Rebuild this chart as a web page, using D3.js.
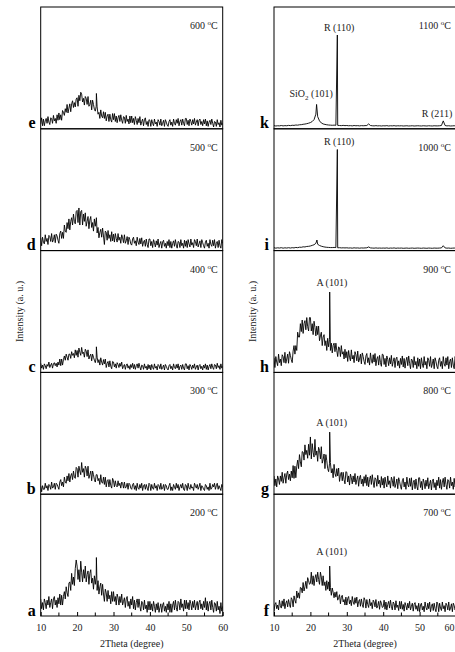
<!DOCTYPE html>
<html><head><meta charset="utf-8">
<script src="https://cdn.jsdelivr.net/npm/d3@7"></script>
<style>
body{margin:0;background:#fff}
svg{display:block;font-family:"Liberation Serif","Times New Roman",serif}
</style>
</head><body>
<svg id="c" width="455" height="652"></svg>
<script>
// ---- data ----
const thetaStart = 10;
const xTicks = [10, 20, 30, 40, 50, 60];
const xMinorTicks = [15, 25, 35, 45, 55];
const xTitle = "2Theta (degree)";
const yTitle = "Intensity (a. u.)";

const panelLetters = ["a", "b", "c", "d", "e", "f", "g", "h", "i", "k"];
const panelTemps = ["200", "300", "400", "500", "600", "700", "800", "900", "1000", "1100"];
const panelStep = [0.25, 0.25, 0.25, 0.25, 0.25, 0.25, 0.25, 0.25, 0.5, 0.5];

const int200 = [
 14,6,11,5,14,11,6,13,9,16,7,11,14,6,14,16,9,13,7,15,
 10,18,9,17,9,16,20,14,24,19,16,27,28,21,35,26,32,25,39,46,
 41,30,38,28,45,36,28,38,31,41,28,34,37,26,35,38,27,31,22,33,
 26,33,21,29,18,24,27,17,26,18,12,22,19,12,21,14,17,10,20,12,
 20,12,16,9,18,15,9,16,11,18,9,12,15,7,14,16,8,12,6,14,
 9,16,6,13,5,11,14,7,14,8,4,12,11,5,13,6,9,3,12,5,
 12,5,10,4,12,8,3,10,5,11,3,7,10,3,9,11,4,8,3,10,
 5,12,3,10,3,9,12,5,13,7,4,12,11,5,14,7,10,4,13,6,
 13,6,11,5,13,10,5,12,7,13,5,9,12,5,11,13,6,10,5,12,
 7,15,5,12,4,10,12,5,13,7,3,11,10,4,12,5,8,2,11,4,
 8];
const int300 = [
 7,2,7,4,4,9,5,7,3,8,7,4,10,5,6,9,4,9,8,6,
 4,10,12,7,10,6,14,10,9,15,11,17,10,15,17,12,19,14,13,22,
 21,14,23,19,16,26,18,21,14,23,21,15,23,13,16,19,11,19,16,12,
 10,16,16,11,13,8,16,10,9,14,8,14,6,11,12,6,12,7,5,13,
 11,6,11,7,6,11,7,9,5,10,9,5,10,5,6,9,4,9,8,5,
 4,8,9,4,7,3,9,5,4,8,5,9,3,7,8,4,8,5,3,9,
 8,3,8,5,4,9,5,7,3,8,7,4,9,4,5,8,3,8,7,4,
 4,7,9,3,6,3,8,6,4,9,5,8,3,6,8,5,9,4,3,8,
 7,3,9,5,4,8,5,6,3,9,7,5,8,4,6,9,3,7,6,4,
 3,8,7,4,6,3,9,4,5,8,6,9,4,7,9,4,7,5,3,8,
 6];
const int400 = [
 7.5,3.5,6,2.5,7,5.5,3,6.5,5,8.5,4,6,7.5,3.5,7,8,5.5,7.5,4.5,8.5,
 6,11,5.5,11,6,10.5,13.5,10,15,12.5,10,15,15,11.5,17,14,15.5,12,18.5,14,
 18,12.5,20,16.5,14,20.5,15.5,16.5,12.5,19,17.5,13,18.5,11,13.5,15,9.5,15,12.5,10,
 8,12,12.5,8,10.5,6,12,8.5,6,10.5,7,11,4,7.5,9,4.5,9.5,5,3,9,
 8.5,4.5,7,3.5,8,6.5,4,7.5,5,8.5,3,5,6.5,2.5,6,7,3.5,5.5,2.5,6.5,
 4,7.5,3,6.5,2.5,5.5,7,3.5,7.5,4.5,2,6,5.5,2.5,7,3.5,5,2,6.5,3,
 6,2,6.5,4,2.5,7,3.5,5,2,6.5,5.5,3,7,2.5,4,6,2,6.5,5,3,
 2,5.5,6.5,3,5,2,7,4,3,6.5,3.5,7,2,5,6,2.5,6.5,3.5,2,7,
 7,3,5.5,2,6.5,5,2.5,6,3.5,7,2.5,4.5,6,2,5.5,6.5,3,5,2,6,
 3.5,7,2.5,6,2,5,6.5,3,7,4,2.5,6.5,6,3,7.5,4,5.5,2.5,7,3.5,
 5];
const int500 = [
 10.5,4,11,7,5.5,13,7.5,10,5,12.5,11.5,7.5,14,7,9,13,6.5,13.5,12,8.5,
 6,14,16,10,15,10,21,16,15,23,18,26,17,24,27,21,30,24,22,32,
 33,23,35,21,32,33,21,30,24,31,20,24,28,18,25,28,19,23,16,26,
 20,25.5,14.5,19,10.5,15,17.5,11,18.5,12,5,16,15,8.5,16.5,10,13,7.5,15.5,8,
 13.5,7,14,10,7,14,8.5,11,6,13,10.5,6.5,13,6,8,11.5,5,11,9,5.5,
 4.5,9.5,11,6,8,4,11,7,5,10,5.5,10.5,3.5,7,8.5,3.5,9.5,5,2.5,9.5,
 9.5,4,7.5,2.5,9,6.5,3,8,4.5,9.5,2.5,5.5,7.5,2,7,8.5,3.5,6,2,7.5,
 4,9,2.5,7.5,2,6,8,3.5,9,4.5,2,7.5,7,2.5,9,4,6,2,8.5,3.5,
 8,2.5,9,5.5,3,9.5,4.5,6.5,2.5,9,7.5,4,9.5,3,5.5,8,2.5,9,6.5,4,
 2,7,8.5,3.5,6,2,9,5,3.5,8.5,4,9,2,6,7.5,2.5,8.5,4,2,9,
 6];
const int600 = [
 4,9,2.5,8,2.5,6.5,8.5,4.5,10,5.5,3.5,9,8.5,4.5,11,6.5,8.5,4.5,11.5,7,
 13,7.5,11.5,7,15,13.5,11,16.5,13.5,20,13,17,20.5,14,20.5,23,17.5,21.5,18,24.5,
 25.5,18.5,27.5,23,30,28.5,22,25,19.5,26.5,25,20,26.5,18.5,20,23.5,15.5,23.5,20,16,
 14.5,18.5,18,12,13.5,8.5,15.5,10.5,9,14,8.5,13.5,6.5,10.5,12,6,12,7.5,5.5,12.5,
 7.5,12.5,6,10.5,5,9,11,6,11.5,7,4.5,10,9.5,4.5,11,6,8,4,10.5,5,
 10.5,5,8.5,3.5,10,7,3.5,8.5,5,10,3,6,8,2.5,7.5,9,3.5,6,2,7.5,
 7,2,7.5,4.5,2.5,8,4,5.5,2,7.5,6,3,8,2.5,4.5,7,2,7.5,5.5,3,
 2,6,7.5,3,5.5,2,8,4.5,3,7.5,4.5,8.5,2.5,6,7.5,3,8,4.5,2.5,8.5,
 8.5,3.5,7,2.5,8,6,3,7.5,4,8.5,3,5.5,7.5,2.5,7,8,3.5,6,2.5,7.5,
 4,8,2.5,6.5,2,5.5,7,3.5,8,4.5,1.5,6,5.5,2,7.5,3.5,5,1.5,7,3,
 4.5];
const int700 = [
 4,9.5,11,6,9,5,13,8.5,6.5,12.5,8,14,6,10.5,12.5,7.5,13.5,9.5,7,15,
 13.5,7.5,16.5,13,10.5,20.5,15,19,14.5,23.5,23,19,27.5,20.5,24,28.5,22.5,31.5,29,26,
 27,36,26,33,25,31,34,28,36,30,26,36,32,25,33,25,28,21,29,22,
 28,20.5,23.5,17,23,19.5,15,19.5,15.5,20,13,15,17.5,10,15.5,17,11.5,13.5,9,15.5,
 9,14.5,16,10,13,8.5,16,11.5,9.5,15,10.5,15.5,7.5,12,13.5,8,14,9.5,7,15,
 13,6.5,13.5,9.5,7,14,8.5,11,6,13,11.5,7.5,13.5,6.5,8.5,12,5.5,12.5,10.5,7,
 7.5,13,5.5,11.5,5,9.5,12,6.5,13,8,5,11.5,10,5,12.5,7,9,4.5,12,6,
 12,5.5,9.5,4,11,8.5,5,10.5,6.5,12,5,8,10.5,4,9.5,11,5.5,8.5,4,10.5,
 3.5,9,10.5,5,8,3.5,11.5,7,5,10.5,6,11.5,3.5,8,10,4.5,10.5,6,3.5,11.5,
 10,3.5,10.5,6.5,4.5,11.5,6,8.5,3.5,10.5,9,5,11.5,4.5,6.5,10,3.5,10.5,8.5,5,
 8];
const int800 = [
 15,7,12.5,6,15,12.5,8,15,10.5,18,9,13.5,17,9,16.5,19,12,16.5,11,19,
 13.5,23.5,13,23,13.5,23,28,21,32.5,26.5,22.5,35,34.5,28,40.5,32.5,36,29.5,41,32,
 47,29,41.5,34.5,30.5,45,32,35.5,27,38.5,36,29,39,25.5,28.5,33,21,32.5,27.5,21,
 18.5,25,26,17.5,21,13.5,24.5,17,14.5,21,15,21.5,10.5,16,18,11,18,12,8.5,18.5,
 18,10,15,7.5,16.5,13.5,8.5,15,10,17,8,12,15,6.5,13.5,15.5,8.5,12.5,6.5,14.5,
 9,16,7,14,6,12,15,8,16,10,5.5,13.5,12.5,6.5,15.5,8.5,11.5,5.5,14.5,7.5,
 13,5,14,9,6,15,8,11,5,14,11.5,6.5,14.5,5.5,8.5,12.5,4.5,13.5,10.5,6.5,
 4,11,13,6,10,4,14,8,6,13,6.5,13.5,3.5,9.5,11.5,4.5,12.5,6.5,3.5,13.5,
 13.5,5.5,10.5,3.5,12.5,9.5,4.5,11.5,6.5,13.5,4.5,8.5,11.5,3.5,10.5,12.5,5.5,9.5,3.5,11.5,
 7,14,5,12,4,10,13,6,14,8,4,12,11,5,14,7,10,4,13,6,
 9];
const int900 = [
 12,4,13,8.5,5.5,15,8,11,5.5,14.5,13,8,16.5,7.5,11,15,7.5,17,14,10.5,
 8,17.5,22,15,22,18,33,29,29,40,33.5,43,32,40,42.5,35,45,37.5,34,45,
 45,34,40,31,42,37,30,38,31,38,26,30,33,22,29,31,22,26,18,28,
 21,27,18,24,16,22,24,17,24,18,13,21,20,13,22,15,17,11,19,12,
 17,9,18,12.5,9.5,18.5,11,14,8,17,14.5,9.5,17.5,8.5,11,15,7,16,13,9,
 6.5,13.5,15.5,8,12,6,16,10,7.5,14.5,8.5,15.5,5.5,11,13,6,14,8,5,15,
 14.5,6.5,11.5,4.5,13.5,10.5,5.5,12,7,14,5,9,12,4,11,12.5,5.5,9.5,3.5,11.5,
 6.5,13.5,4.5,11.5,3.5,9.5,12.5,5.5,13.5,7.5,3,11,10,4,13,6,9,3,12,5,
 11,3,12,7,4,13,6,9,3,12,10,5,13,4,7,11,3,12,9,5,
 3,10,12,5,9,3,13,7,5,12,6,13,3,9,11,4,12,6,3,13,
 10];
const int1000 = [
 2.4,2.0,2.3,2.1,2.4,2.0,2.3,2.1,2.4,2.1,
 2.4,2.2,2.6,2.4,2.8,2.7,3.1,3.0,3.4,3.5,
 3.8,4.3,4.8,6.0,5.2,4.2,3.6,3.2,2.9,2.7,
 2.6,2.5,2.5,2.6,2.5,2.3,2.4,2.2,2.3,2.2,
 2.3,2.1,2.2,2.0,2.3,2.1,2.2,2.0,2.2,2.1,
 2.2,2.3,3.0,2.2,2.1,2.0,2.2,2.0,2.1,2.0,
 2.1,2.0,2.2,1.9,2.1,2.0,2.2,1.9,2.1,2.0,
 2.1,1.9,2.0,2.1,1.9,2.0,2.1,1.9,2.0,2.1,
 2.0,1.9,2.1,2.0,1.9,2.1,2.0,1.9,2.1,2.0,
 2.0,2.1,2.2,4.0,2.2,2.0,2.1,1.9,2.0,2.1,
 2.0];
const int1100 = [
 2.6,2.3,2.5,2.4,2.7,2.4,2.6,2.5,2.8,2.6,
 2.9,2.8,3.1,3.0,3.3,3.4,3.7,3.9,4.2,4.6,
 5.1,6.0,7.5,12.0,10.0,6.5,4.8,4.0,3.6,3.3,
 3.1,3.0,2.9,3.0,2.9,2.8,2.7,2.6,2.8,2.6,
 2.7,2.5,2.6,2.4,2.7,2.5,2.6,2.4,2.6,2.5,
 2.6,2.7,4.0,2.7,2.5,2.4,2.6,2.4,2.5,2.3,
 2.5,2.4,2.6,2.3,2.5,2.4,2.6,2.3,2.5,2.4,
 2.5,2.3,2.4,2.5,2.3,2.4,2.5,2.3,2.4,2.5,
 2.4,2.3,2.5,2.4,2.3,2.5,2.4,2.3,2.5,2.4,
 2.4,2.5,2.7,6.5,2.7,2.4,2.5,2.3,2.4,2.5,
 2.4];

// sharp reflections sampled between grid points: [2theta, intensity]
const spikes200 = [[25.3, 48]];
const spikes300 = [];
const spikes400 = [[25.3, 21]];
const spikes500 = [[25.3, 27]];
const spikes600 = [[25.3, 29]];
const spikes700 = [[25.3, 41]];
const spikes800 = [[25.3, 51]];
const spikes900 = [[25.3, 66]];
const spikes1000 = [[21.8, 8.7], [27.4, 83]];
const spikes1100 = [[21.7, 20], [27.4, 77]];

// peak annotations
const annPanel = ["k", "k", "k", "i", "h", "g", "f"];
const annText  = ["R (110)", "SiO2 (101)", "R (211)", "R (110)", "A (101)", "A (101)", "A (101)"];
const annTheta = [27.9, 20.2, 54.8, 27.9, 25.9, 25.85, 25.85];
const annInt   = [80, 25.7, 9.3, 87, 71.3, 56.4, 49.7];

const allIntensity = [int200, int300, int400, int500, int600, int700, int800, int900, int1000, int1100];
const allSpikes = [spikes200, spikes300, spikes400, spikes500, spikes600, spikes700, spikes800, spikes900, spikes1000, spikes1100];

// ---- layout ----
const svg = d3.select("#c");
const colX = [40.7, 274];
const panelW = 182;
const top0 = 7;
const panelH = 121.8;

function panelGeom(idx) {
  const col = idx < 5 ? 0 : 1;
  const row = 4 - (idx % 5); // 0 = top
  const x0 = colX[col];
  const y0 = top0 + row * panelH;
  return {col, row, x0, y0, x1: x0 + panelW, y1: y0 + panelH};
}

const defs = svg.append("defs");

panelLetters.forEach((letter, idx) => {
  const g = panelGeom(idx);
  const x = d3.scaleLinear().domain([10, 60]).range([g.x0, g.x1]);
  const y = d3.scaleLinear().domain([0, 100]).range([g.y1, g.y0]);

  const pts = allIntensity[idx].map((v, i) => [thetaStart + i * panelStep[idx], v])
    .concat(allSpikes[idx])
    .sort((p, q) => p[0] - q[0]);

  const clipId = "clip" + idx;
  defs.append("clipPath").attr("id", clipId)
    .append("rect").attr("x", g.x0).attr("y", g.y0).attr("width", panelW).attr("height", panelH);

  const line = d3.line().x(d => x(d[0])).y(d => y(d[1]));
  svg.append("path")
    .datum(pts)
    .attr("clip-path", `url(#${clipId})`)
    .attr("fill", "none")
    .attr("stroke", "#000")
    .attr("stroke-width", 0.9)
    .attr("stroke-linejoin", "miter")
    .attr("d", line);

  // frame
  svg.append("rect")
    .attr("x", g.x0).attr("y", g.y0).attr("width", panelW).attr("height", panelH)
    .attr("fill", "none").attr("stroke", "#000").attr("stroke-width", 1);

  // temperature label
  const t = svg.append("text")
    .attr("x", g.x1 - 5).attr("y", g.y0 + 22)
    .attr("text-anchor", "end")
    .attr("font-size", 10).attr("fill", "#222");
  t.append("tspan").text(panelTemps[idx] + " ");
  t.append("tspan").attr("font-size", 7).attr("dy", -4).text("o");
  t.append("tspan").attr("dy", 4).text("C");

  // panel letter
  svg.append("text")
    .attr("x", g.x0 - 5).attr("y", g.y1 - 0.5)
    .attr("text-anchor", "end")
    .attr("font-size", 16).attr("font-weight", "bold")
    .text(letter);

  // annotations
  annPanel.forEach((p, k) => {
    if (p !== letter) return;
    const a = svg.append("text")
      .attr("x", x(annTheta[k])).attr("y", y(annInt[k]))
      .attr("text-anchor", "middle")
      .attr("font-size", 10).attr("fill", "#222");
    const txt = annText[k];
    if (txt.startsWith("SiO2")) {
      a.append("tspan").text("SiO");
      a.append("tspan").attr("font-size", 7).attr("dy", 2.5).text("2");
      a.append("tspan").attr("dy", -2.5).text(txt.slice(4));
    } else {
      a.text(txt);
    }
  });

  // bottom axis on lowest panels
  if (g.row === 4) {
    const ax = svg.append("g").attr("transform", `translate(0,${g.y1})`);
    ax.call(d3.axisBottom(x).tickValues(xTicks).tickSize(-4).tickPadding(8).tickFormat(d3.format("d")))
      .call(s => s.select(".domain").remove())
      .call(s => s.selectAll("text").attr("font-size", 10).attr("font-family", "Liberation Serif").attr("fill", "#222"));
    if (g.col === 1) {
      // keep the last label inside the page edge
      ax.selectAll(".tick").filter(d => d === 60).select("text")
        .attr("text-anchor", "end").attr("dx", "-0.2em");
    }
    ax.selectAll(".minor").data(xMinorTicks).enter().append("line")
      .attr("x1", d => x(d)).attr("x2", d => x(d))
      .attr("y1", 0).attr("y2", -3.5)
      .attr("stroke", "#000");
    svg.append("text")
      .attr("x", (g.x0 + g.x1) / 2).attr("y", g.y1 + 31)
      .attr("text-anchor", "middle").attr("font-size", 10).attr("fill", "#222")
      .text(xTitle);
  }
});

// y titles
[0, 1].forEach(col => {
  const cx = col === 0 ? 23 : 256;
  const cy = top0 + 2.5 * panelH;
  svg.append("text")
    .attr("transform", `translate(${cx},${cy}) rotate(-90)`)
    .attr("text-anchor", "middle").attr("font-size", 10).attr("fill", "#222")
    .text(yTitle);
});
</script>
</body></html>
